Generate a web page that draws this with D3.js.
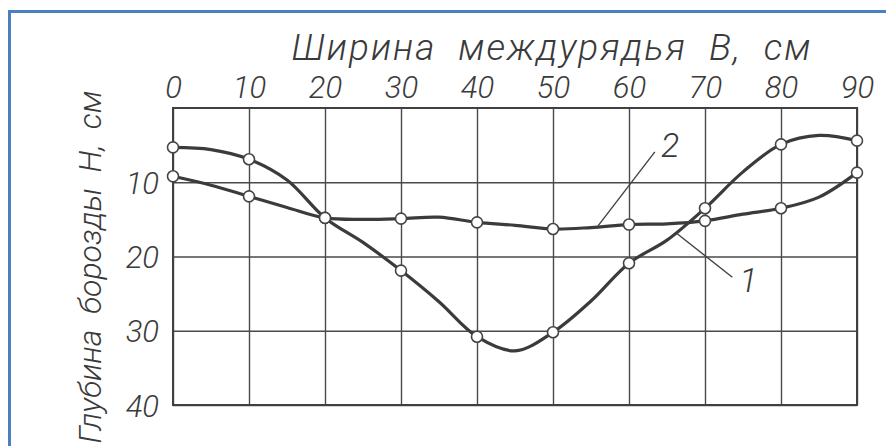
<!DOCTYPE html>
<html>
<head>
<meta charset="utf-8">
<script src="https://cdn.jsdelivr.net/npm/d3@7"></script>
<style>
  html, body { margin: 0; padding: 0; background: #fff; }
  svg { display: block; }
  text { font-family: Roboto, "DejaVu Sans", sans-serif; font-style: italic; font-weight: 300; fill: #3a3a3a; }
</style>
</head>
<body>
<script>
// Row width B (cm), sampled every 5 cm along the furrow profile
const widths = [0, 5, 10, 15, 20, 25, 30, 35, 40, 45, 50, 55, 60, 65, 70, 75, 80, 85, 90];
// Furrow depth H (cm) for profile 1 and profile 2
const depth1 = [5.3, 5.6, 6.9, 9.7, 14.8, 18.1, 21.9, 26.1, 30.8, 32.7, 30.2, 26.0, 20.9, 17.8, 13.5, 8.6, 4.9, 3.7, 4.4];
const depth2 = [9.2, 10.4, 11.9, 13.4, 14.8, 15.0, 14.9, 14.7, 15.4, 15.8, 16.3, 16.1, 15.7, 15.6, 15.2, 14.3, 13.5, 12.0, 8.7];
// Widths at which measurements are marked with circles
const markedWidths = [0, 10, 20, 30, 40, 50, 60, 70, 80, 90];
const xTicks = [0, 10, 20, 30, 40, 50, 60, 70, 80, 90];
const yTicks = [10, 20, 30, 40];
const xTitle = "Ширина  междурядья  B,  см";
const yTitle = "Глубина  борозды  H,  см";
const curveLabels = ["1", "2"];

const W = 886, H = 446;
const svg = d3.select("body").append("svg").attr("width", W).attr("height", H);

// page frame accents
svg.append("line").attr("x1", 9.5).attr("x2", 9.5).attr("y1", 10).attr("y2", H)
  .attr("stroke", "#4b7fc0").attr("stroke-width", 3);
svg.append("line").attr("x1", 8).attr("x2", W).attr("y1", 11.5).attr("y2", 11.5)
  .attr("stroke", "#4b7fc0").attr("stroke-width", 3);

const x = d3.scaleLinear().domain([0, 90]).range([173, 857]);
const y = d3.scaleLinear().domain([0, 40]).range([108, 405]);
const plotW = x(90) - x(0), plotH = y(40) - y(0);

// grid via axes
const gx = svg.append("g").attr("transform", `translate(0,${y(0)})`)
  .call(d3.axisTop(x).tickValues(xTicks).tickSizeInner(-plotH).tickSizeOuter(0).tickPadding(10).tickFormat(d3.format("d")));
const gy = svg.append("g").attr("transform", `translate(${x(0)},0)`)
  .call(d3.axisLeft(y).tickValues(yTicks).tickSizeInner(-plotW).tickSizeOuter(0).tickPadding(14).tickFormat(d3.format("d")));
[gx, gy].forEach(g => {
  g.select(".domain").remove();
  g.selectAll(".tick line").attr("stroke", "#4a4a4a").attr("stroke-width", 1.4);
  g.selectAll(".tick text").attr("font-size", 31).attr("fill", "#3a3a3a");
});
gy.selectAll(".tick text").attr("dy", "0.36em");

// plot frame
svg.append("rect").attr("x", x(0)).attr("y", y(0)).attr("width", plotW).attr("height", plotH)
  .attr("fill", "none").attr("stroke", "#404040").attr("stroke-width", 2);

// axis titles
svg.append("text").attr("x", 552).attr("y", 60).attr("text-anchor", "middle")
  .attr("font-size", 37).attr("letter-spacing", 2).style("white-space", "pre").text(xTitle);
svg.append("text").attr("transform", "translate(101,267) rotate(-90)").attr("text-anchor", "middle")
  .attr("font-size", 32).style("white-space", "pre").text(yTitle);

// profiles
const line = d3.line().x(d => x(d[0])).y(d => y(d[1])).curve(d3.curveCatmullRom.alpha(0.5));
const series = [depth1, depth2].map(ds => widths.map((w, i) => [w, ds[i]]));
svg.append("g").selectAll("path").data(series).join("path")
  .attr("d", line).attr("fill", "none").attr("stroke", "#3b3b3b").attr("stroke-width", 3.2)
  .attr("stroke-linejoin", "round");

// measurement markers
const marks = series.flatMap(s => s.filter(d => markedWidths.includes(d[0])));
svg.append("g").selectAll("circle").data(marks).join("circle")
  .attr("cx", d => x(d[0])).attr("cy", d => y(d[1])).attr("r", 5.5)
  .attr("fill", "#fff").attr("stroke", "#444").attr("stroke-width", 1.6);

// callouts: leader from curve to the number
const callouts = [
  { label: curveLabels[0], from: [66.3, 16.9], to: [73.6, 22.8], at: [75.7, 24.8] },
  { label: curveLabels[1], from: [55.9, 15.9], to: [63.4, 5.9], at: [65.4, 6.6] }
];
svg.append("g").selectAll("line").data(callouts).join("line")
  .attr("x1", d => x(d.from[0])).attr("y1", d => y(d.from[1]))
  .attr("x2", d => x(d.to[0])).attr("y2", d => y(d.to[1]))
  .attr("stroke", "#444").attr("stroke-width", 1.4);
svg.append("g").selectAll("text").data(callouts).join("text")
  .attr("x", d => x(d.at[0])).attr("y", d => y(d.at[1])).attr("text-anchor", "middle")
  .attr("font-size", 34).text(d => d.label);
</script>
</body>
</html>
